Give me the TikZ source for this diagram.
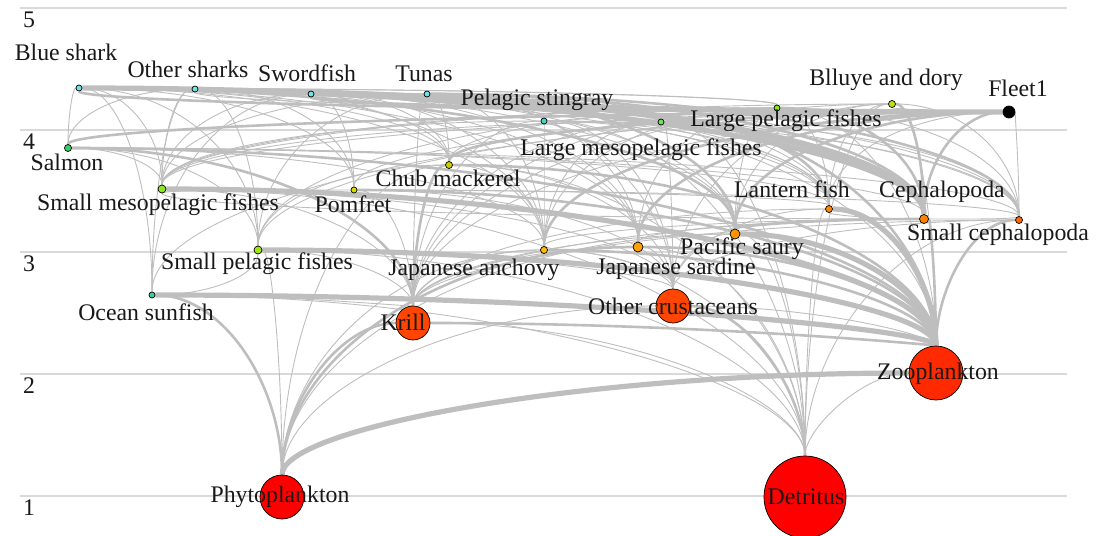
\documentclass[tikz,border=0pt]{standalone}
\usepackage{fontspec}
\setmainfont{Liberation Serif}
\usepackage{tikz}
\usetikzlibrary{calc}
\definecolor{webGrey}{HTML}{BEBEBE}
\definecolor{gridGrey}{HTML}{D9D9D9}
\definecolor{tlCyan}{HTML}{6FE3E6}
\definecolor{tlTeal}{HTML}{3FD9C4}
\definecolor{tlSea}{HTML}{3CCF9A}
\definecolor{tlGreen}{HTML}{3DCC6A}
\definecolor{tlLeaf}{HTML}{6FE05A}
\definecolor{tlLime}{HTML}{8CE620}
\definecolor{tlYellow}{HTML}{D9E000}
\definecolor{tlOlive}{HTML}{CCCC00}
\definecolor{tlAmber}{HTML}{FFBB00}
\definecolor{tlOrange}{HTML}{FFA000}
\definecolor{tlPumpkin}{HTML}{FF8800}
\definecolor{tlRust}{HTML}{FF6A00}
\definecolor{tlRed}{HTML}{FF4500}
\definecolor{tlScarlet}{HTML}{FF2A00}
\definecolor{tlBase}{HTML}{FF0000}

\pgfdeclarelayer{grid}
\pgfdeclarelayer{web}
\pgfsetlayers{grid,web,main}

% #1 predator, #2 prey, #3 weight class
\newcommand{\eats}[3]{%
  \draw[link, w#3] let \p1=(#2.center), \p2=(#1.center) in
    (#2) .. controls (\x1,{\y1+0.552*(\y2-\y1)}) and ({\x2+0.552*(\x1-\x2)},\y2) .. (#1);}

\begin{document}
\begin{tikzpicture}[x=0.5pt, y=-0.5pt,
    sp/.style={circle, draw=black, line width=0.35pt, inner sep=0pt, minimum size=#1},
    lab/.style={font=\fontsize{11.9}{13}\selectfont, text=black!90, inner sep=0pt},
    link/.style={draw=webGrey},
    w1/.style={line width=0.45pt},
    w2/.style={line width=1.3pt},
    w3/.style={line width=2.6pt}]
    \useasboundingbox (0,0) rectangle (1116,536);

    % trophic levels
    \begin{pgfonlayer}{grid}
    \foreach \t in {1,...,5} {
        \draw[gridGrey, line width=0.75pt] (20,{618-122*\t}) -- (1067,{618-122*\t});
        \node[lab] (tl\t) at (29,{630-122*\t}) {\t};
    }
    \end{pgfonlayer}

    % groups
    \node[sp=3pt, fill=tlCyan] (bs) at (79,88) {};
    \node[sp=3pt, fill=tlCyan] (os) at (195,89) {};
    \node[sp=3pt, fill=tlCyan] (sw) at (311,94) {};
    \node[sp=3pt, fill=tlCyan] (tu) at (427,94) {};
    \node[sp=3pt, fill=tlTeal] (ps) at (544,121) {};
    \node[sp=3pt, fill=tlLeaf] (lm) at (661,122) {};
    \node[sp=3pt, fill=tlLime] (lp) at (777,108) {};
    \node[sp=3.5pt, fill=tlYellow!70!tlLime] (bd) at (892,104) {};
    \node[sp=6pt, fill=black] (fl) at (1009,112) {};
    \node[sp=3.5pt, fill=tlGreen] (sa) at (68,148) {};
    \node[sp=4pt, fill=tlLime] (smf) at (162,189) {};
    \node[sp=3pt, fill=tlYellow] (po) at (354,190) {};
    \node[sp=3.5pt, fill=tlOlive] (cm) at (449,165) {};
    \node[sp=3.5pt, fill=tlPumpkin] (lf) at (829,209) {};
    \node[sp=4.5pt, fill=tlPumpkin!80!tlRust] (ce) at (924,219) {};
    \node[sp=3.5pt, fill=tlRust] (sc) at (1019,220) {};
    \node[sp=4pt, fill=tlLime!70!tlYellow] (spf) at (258,250) {};
    \node[sp=3.5pt, fill=tlAmber] (ja) at (544,250) {};
    \node[sp=5pt, fill=tlOrange] (js) at (638,247) {};
    \node[sp=5pt, fill=tlOrange!60!tlPumpkin] (pss) at (735,234) {};
    \node[sp=3pt, fill=tlSea] (osf) at (152,295) {};
    \node[sp=17pt, fill=tlRed] (kr) at (413,323) {};
    \node[sp=17pt, fill=tlRed] (oc) at (673,306) {};
    \node[sp=27pt, fill=tlScarlet] (zo) at (936,373) {};
    \node[sp=22pt, fill=tlBase] (ph) at (282,497) {};
    \node[sp=41pt, fill=tlBase] (de) at (805,497) {};

    % names
    \node[lab] (bs-t) at (66,52) {Blue shark};
    \node[lab] (os-t) at (188,69) {Other sharks};
    \node[lab] (sw-t) at (307,73) {Swordfish};
    \node[lab] (tu-t) at (424,74) {Tunas};
    \node[lab] (ps-t) at (537,100) {Pelagic stingray};
    \node[lab] (lm-t) at (641,150) {Large mesopelagic fishes};
    \node[lab] (lp-t) at (786,121) {Large pelagic fishes};
    \node[lab] (bd-t) at (886,80) {Blluye and dory};
    \node[lab] (fl-t) at (1018,88) {Fleet1};
    \node[lab] (sa-t) at (67,162) {Salmon};
    \node[lab] (smf-t) at (158,205) {Small mesopelagic fishes};
    \node[lab] (po-t) at (353,204) {Pomfret};
    \node[lab] (cm-t) at (448,178) {Chub mackerel};
    \node[lab] (lf-t) at (792,189) {Lantern fish};
    \node[lab] (ce-t) at (942,192) {Cephalopoda};
    \node[lab] (sc-t) at (998,235) {Small cephalopoda};
    \node[lab] (spf-t) at (257,264) {Small pelagic fishes};
    \node[lab] (ja-t) at (474,270) {Japanese anchovy};
    \node[lab] (js-t) at (676,269) {Japanese sardine};
    \node[lab] (pss-t) at (742,249) {Pacific saury};
    \node[lab] (osf-t) at (146,312) {Ocean sunfish};
    \node[lab] (kr-t) at (403,322) {Krill};
    \node[lab] (oc-t) at (673,306) {Other crustaceans};
    \node[lab] (zo-t) at (938,374) {Zooplankton};
    \node[lab] (ph-t) at (280,497) {Phytoplankton};
    \node[lab] (de-t) at (806,497) {Detritus};

    % flows, prey to predator
    \begin{pgfonlayer}{web}
    \foreach \prey/\wt in {ce/3,sc/1,sa/1,lp/1,pss/2,js/1,cm/1,po/1,lf/1,smf/1,lm/1,ps/1,osf/1,spf/1,ja/1} {\eats{bs}{\prey}{\wt}}
    \foreach \prey/\wt in {ce/2,cm/1,js/1,pss/1,spf/1,sa/1,smf/1,po/1,lp/1,ja/1,osf/1,lf/1} {\eats{os}{\prey}{\wt}}
    \foreach \prey/\wt in {ce/3,sc/1,lm/2,smf/1,lf/1,po/1,cm/1,pss/1,js/1,osf/1,ja/1} {\eats{sw}{\prey}{\wt}}
    \foreach \prey/\wt in {ce/2,sc/2,ja/1,js/1,cm/1,pss/2,lf/1,kr/1,oc/1,spf/1,smf/1,lm/1} {\eats{tu}{\prey}{\wt}}
    \foreach \prey/\wt in {ce/1,sc/1,zo/1,lf/1,kr/1,smf/1,oc/1,ja/1,de/1} {\eats{ps}{\prey}{\wt}}
    \foreach \prey/\wt in {lf/2,smf/1,kr/1,oc/1,zo/2,sc/1,ja/1,de/1} {\eats{lm}{\prey}{\wt}}
    \foreach \prey/\wt in {ce/2,pss/1,js/1,ja/1,lf/1,cm/1,spf/1,kr/1,zo/1,sc/1,smf/1} {\eats{lp}{\prey}{\wt}}
    \foreach \prey/\wt in {ce/2,sc/1,lf/1,oc/1,zo/1,kr/1,smf/1,pss/1,de/1} {\eats{bd}{\prey}{\wt}}
    \foreach \prey/\wt in {zo/2,kr/2,spf/1,ja/1,smf/1,ce/1,lf/1,sc/1} {\eats{sa}{\prey}{\wt}}
    \foreach \prey/\wt in {zo/3,kr/1,oc/1,de/1} {\eats{smf}{\prey}{\wt}}
    \foreach \prey/\wt in {zo/2,kr/1,smf/1,oc/1,lf/1,sc/1} {\eats{po}{\prey}{\wt}}
    \foreach \prey/\wt in {zo/2,kr/2,ja/1,oc/1,spf/1,ph/1,de/1} {\eats{cm}{\prey}{\wt}}
    \foreach \prey/\wt in {zo/3,kr/1,oc/1,de/1} {\eats{lf}{\prey}{\wt}}
    \foreach \prey/\wt in {lf/1,sc/1,js/1,pss/2,ja/1,kr/1,zo/2,smf/1} {\eats{ce}{\prey}{\wt}}
    \foreach \prey/\wt in {zo/2,kr/1,oc/1,de/1} {\eats{sc}{\prey}{\wt}}
    \foreach \prey/\wt in {zo/3,kr/1,ph/1,oc/1,de/1} {\eats{spf}{\prey}{\wt}}
    \foreach \prey/\wt in {zo/2,ph/1,kr/1,oc/1,de/1} {\eats{ja}{\prey}{\wt}}
    \foreach \prey/\wt in {zo/2,ph/2,de/1,oc/1,kr/1} {\eats{js}{\prey}{\wt}}
    \foreach \prey/\wt in {zo/3,kr/1,oc/1,ph/1,de/1} {\eats{pss}{\prey}{\wt}}
    \foreach \prey/\wt in {zo/3,ph/2,kr/1,spf/1,de/1} {\eats{osf}{\prey}{\wt}}
    \foreach \prey/\wt in {ph/2,de/1,zo/2} {\eats{kr}{\prey}{\wt}}
    \foreach \prey/\wt in {ph/1,de/2,zo/1} {\eats{oc}{\prey}{\wt}}
    \foreach \prey/\wt in {ph/3,de/1} {\eats{zo}{\prey}{\wt}}
    \foreach \prey/\wt in {bs/2,os/1,sw/2,tu/3,ps/1,lp/2,bd/1,sa/2,po/1,cm/2,ce/2,sc/1,ja/2,js/2,pss/2,spf/1,osf/1,kr/1,lm/1,lf/1,smf/1} {\eats{fl}{\prey}{\wt}}
    \end{pgfonlayer}
\end{tikzpicture}
\end{document}
